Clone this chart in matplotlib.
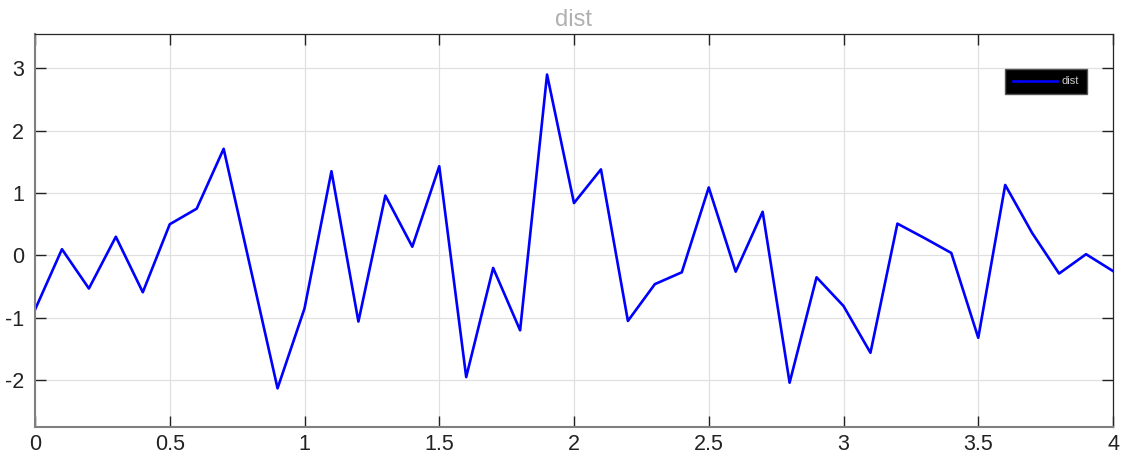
import numpy as np
import matplotlib.pyplot as plt

plt.rcParams['font.family'] = ['Liberation Sans', 'DejaVu Sans']
plt.rcParams['axes.unicode_minus'] = False

# data
t = np.round(np.arange(0, 4.01, 0.1), 1)
dist = [-0.87, 0.10, -0.53, 0.30, -0.59, 0.50, 0.75, 1.71, -0.21, -2.13,
        -0.85, 1.35, -1.06, 0.96, 0.14, 1.43, -1.95, -0.20, -1.20, 2.90,
        0.84, 1.38, -1.05, -0.46, -0.27, 1.09, -0.26, 0.70, -2.04, -0.35,
        -0.81, -1.56, 0.51, 0.28, 0.04, -1.32, 1.13, 0.36, -0.29, 0.02,
        -0.25]
xticks = [0, 0.5, 1, 1.5, 2, 2.5, 3, 3.5, 4]
xlabels = ['0', '0.5', '1', '1.5', '2', '2.5', '3', '3.5', '4']
yticks = [-2, -1, 0, 1, 2, 3]

fig = plt.figure(figsize=(11.26, 4.65), dpi=100)
ax = fig.add_axes([35/1126, 1 - 427/465, (1113-35)/1126, (427-34)/465])

ax.plot(t, dist, color='#0000ff', lw=1.9, label='dist')
ax.set_xlim(0, 4)
ax.set_ylim(-2.75, 3.55)
ax.set_xticks(xticks)
ax.set_xticklabels(xlabels)
ax.set_yticks(yticks)
ax.grid(True, color='#e0e0e0', lw=0.9)
ax.tick_params(direction='in', length=8, width=1, top=True, right=True,
               labelsize=15.5, colors='#222222', pad=5)
ax.tick_params(axis='y', pad=8)
for side in ['left', 'bottom']:
    ax.spines[side].set_color('#808080')
    ax.spines[side].set_linewidth(1.5)
for side in ['top', 'right']:
    ax.spines[side].set_color('#262626')
    ax.spines[side].set_linewidth(0.9)

ax.set_title('dist', color='#b0b0b0', fontsize=17, pad=6)

leg = ax.legend(loc='upper right', bbox_to_anchor=(0.981, 0.926), fontsize=8,
                facecolor='black', edgecolor='#555555', framealpha=1,
                fancybox=False, handlelength=4.0, handletextpad=0.4,
                borderpad=0.7, labelcolor='#cccccc')

fig.savefig('out.png', dpi=100)
